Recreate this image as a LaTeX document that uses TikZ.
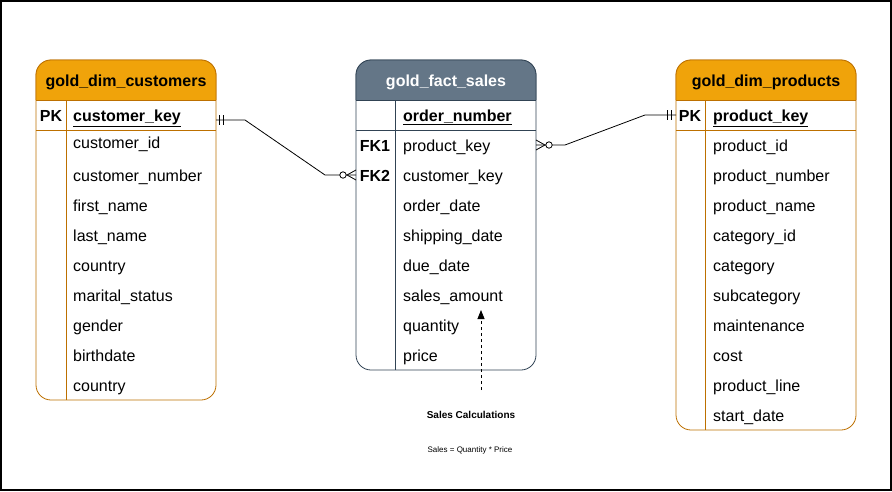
\documentclass[tikz,border=0pt]{standalone}
\usepackage{fontspec}
\setmainfont{Liberation Sans}
\usetikzlibrary{arrows.meta,positioning}
\definecolor{dimfill}{HTML}{F0A30A}
\definecolor{dimline}{HTML}{BD7000}
\definecolor{factfill}{HTML}{647687}
\definecolor{factline}{HTML}{314354}

\begin{document}
\begin{tikzpicture}[x=1pt,y=-1pt,
    tbl/.style={draw,fill=white,rounded corners=15pt,line width=0.8pt},
    hdr/.style={inner sep=0pt,yshift=-2pt,font=\fontsize{16}{18}\selectfont\bfseries},
    row/.style={anchor=west,inner sep=0pt,text height=15.5pt,text depth=3.5pt,font=\fontsize{16}{18}\selectfont},
    keytag/.style={inner sep=0pt,text height=15.5pt,text depth=3.5pt,font=\fontsize{16}{18}\selectfont\bfseries},
    rel/.style={line width=0.8pt}]
    \useasboundingbox (0,0) rectangle (892,491);
    \draw[line width=1.5pt] (1,1) rectangle (891,490);

    % customers table
    \draw[tbl,draw=dimline] (36,60) rectangle (216,400);
    \fill[dimfill,rounded corners=15pt] (36,100) |- (216,60) -- (216,100);
    \draw[dimline,line width=0.8pt,rounded corners=15pt] (36,100) |- (216,60) -- (216,100);
    \draw[dimline,line width=0.8pt] (36,100) -- (216,100) (36,130) -- (216,130) (66,100) -- (66,400);
    \node[hdr] (custhead) at (126,80) {gold\_dim\_customers};
    \node[keytag] (custpk) at (51,115) {PK};
    \node[row] (custkey) at (73,115) {\bfseries\underline{customer\_key}};
    \node[row] (custid) at (73,142) {customer\_id};
    \foreach \name [count=\i] in {customer\_number,first\_name,last\_name,country,marital\_status,gender,birthdate,country}
        \node[row] (cust\i) at (73,145+30*\i) {\name};

    % fact table
    \draw[tbl,draw=factline] (356,60) rectangle (536,370);
    \fill[factfill,rounded corners=15pt] (356,100) |- (536,60) -- (536,100);
    \draw[factline,line width=0.8pt,rounded corners=15pt] (356,100) |- (536,60) -- (536,100);
    \draw[factline,line width=0.8pt] (356,100) -- (536,100) (356,130) -- (536,130) (395,100) -- (395,370);
    \node[hdr,text=white] (facthead) at (446,80) {gold\_fact\_sales};
    \node[row] (factkey) at (403,115) {\bfseries\underline{order\_number}};
    \node[keytag] (fk1) at (375,145) {FK1};
    \node[keytag] (fk2) at (375,175) {FK2};
    \foreach \name [count=\i] in {product\_key,customer\_key,order\_date,shipping\_date,due\_date,sales\_amount,quantity,price}
        \node[row] (fact\i) at (403,115+30*\i) {\name};

    % products table
    \draw[tbl,draw=dimline] (676,60) rectangle (856,430);
    \fill[dimfill,rounded corners=15pt] (676,100) |- (856,60) -- (856,100);
    \draw[dimline,line width=0.8pt,rounded corners=15pt] (676,100) |- (856,60) -- (856,100);
    \draw[dimline,line width=0.8pt] (676,100) -- (856,100) (676,130) -- (856,130) (705,100) -- (705,430);
    \node[hdr] (prodhead) at (766,80) {gold\_dim\_products};
    \node[keytag] (prodpk) at (690,115) {PK};
    \node[row] (prodkey) at (713,115) {\bfseries\underline{product\_key}};
    \foreach \name [count=\i] in {product\_id,product\_number,product\_name,category\_id,category,subcategory,maintenance,cost,product\_line,start\_date}
        \node[row] (prod\i) at (713,115+30*\i) {\name};

    % relations
    \coordinate (custR) at (216,120);
    \coordinate (bendA) at (245,120);
    \coordinate (bendB) at (325,175);
    \coordinate (factL) at (356,175);
    \draw[rel] (custR) -- (bendA) -- (bendB) -- (factL);
    \draw[rel] ([xshift=3pt]custR) ++(0,-5) -- ++(0,10);
    \draw[rel] ([xshift=7pt]custR) ++(0,-5) -- ++(0,10);
    \draw[rel] (factL) ++(0,-5) -- ++(-9,5) -- ++(9,5);
    \draw[rel,fill=white] ([xshift=-13pt]factL) circle (3.2pt);

    \coordinate (factR) at (536,145);
    \coordinate (bendC) at (565,145);
    \coordinate (bendD) at (645,115);
    \coordinate (prodL) at (676,115);
    \draw[rel] (factR) -- (bendC) -- (bendD) -- (prodL);
    \draw[rel] (factR) ++(0,-5) -- ++(9,5) -- ++(-9,5);
    \draw[rel,fill=white] ([xshift=13pt]factR) circle (3.2pt);
    \draw[rel] ([xshift=-5pt]prodL) ++(0,-5) -- ++(0,10);
    \draw[rel] ([xshift=-9pt]prodL) ++(0,-5) -- ++(0,10);

    % note
    \coordinate (calcBot) at (481,390);
    \coordinate (calcTop) at (481,310);
    \draw[rel,dash pattern=on 3pt off 3pt,-{Triangle[width=7pt,length=9pt]}] (calcBot) -- (calcTop);
    \node[font=\fontsize{10}{12}\selectfont\bfseries] (calctitle) at (471,415) {Sales Calculations};
    \node[font=\fontsize{8}{10}\selectfont] (calcrule) at (470,450) {Sales = Quantity * Price};
\end{tikzpicture}
\end{document}
